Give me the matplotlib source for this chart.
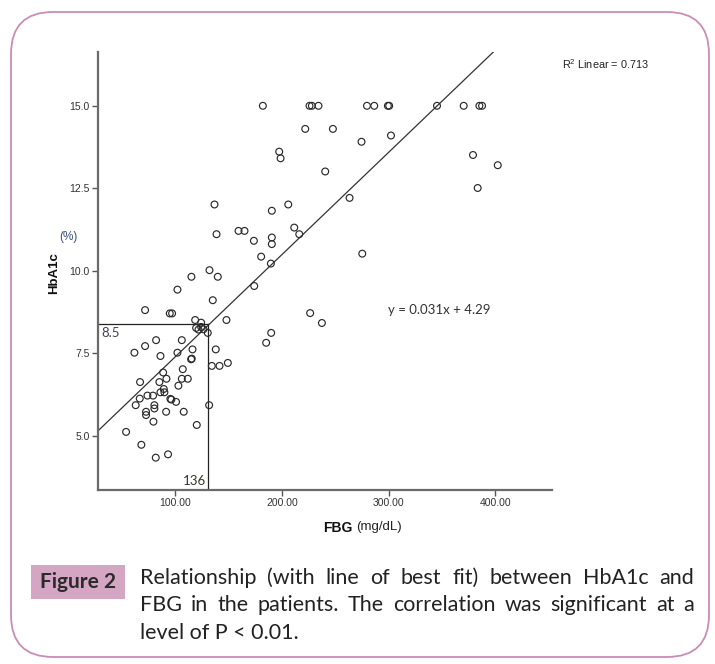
import matplotlib
matplotlib.use("Agg")
import matplotlib.pyplot as plt
from matplotlib.patches import FancyBboxPatch, Rectangle

plt.rcParams['mathtext.fontset'] = 'custom'
plt.rcParams['mathtext.rm'] = 'Liberation Sans'
plt.rcParams['mathtext.it'] = 'Liberation Sans'

# ---------------- data ----------------
fbg = [
    102.2, 135.3, 71.9, 95.0, 97.2, 118.8, 124.4, 148.1, 119.7, 121.9, 124.4, 126.6,
    130.6, 82.2, 106.3, 71.9, 61.9, 102.2, 116.3, 86.3, 115.0, 115.6, 138.1, 134.4,
    141.6, 149.4, 107.2, 88.8, 91.9, 106.3, 111.9, 67.2, 85.3, 103.1, 89.4, 90.0,
    86.3, 74.1, 79.4, 66.9, 95.6, 96.5, 100.9, 63.1, 80.6, 80.6, 72.8, 72.8, 91.6,
    108.1, 131.9, 79.7, 120.3, 54.1, 68.4, 93.4, 81.9,
    136.9, 138.8, 159.4, 165.0, 173.8, 190.6, 190.6, 190.6, 206.0, 211.6, 216.3,
    180.6, 189.7, 115.3, 132.2, 140.0, 174.1, 197.5, 198.8, 221.9, 247.8, 274.6,
    302.2, 240.6, 263.4, 275.3, 226.5, 237.5, 185.3, 190.0, 379.0, 402.2, 383.4,
    182.2, 225.9, 228.1, 234.3, 279.7, 286.5, 299.3, 300.5, 345.3, 370.3, 385.0, 387.5,
]
hba1c = [
    9.43, 9.11, 8.81, 8.71, 8.71, 8.51, 8.43, 8.51, 8.27, 8.22, 8.30, 8.23,
    8.12, 7.90, 7.90, 7.72, 7.52, 7.52, 7.62, 7.42, 7.32, 7.34, 7.62, 7.12,
    7.12, 7.21, 7.02, 6.92, 6.73, 6.73, 6.73, 6.63, 6.63, 6.52, 6.42, 6.32,
    6.32, 6.22, 6.22, 6.13, 6.12, 6.10, 6.03, 5.93, 5.93, 5.83, 5.73, 5.63, 5.73,
    5.73, 5.93, 5.43, 5.33, 5.12, 4.73, 4.44, 4.34,
    12.01, 11.11, 11.21, 11.21, 10.91, 11.01, 10.81, 11.82, 12.01, 11.31, 11.11,
    10.43, 10.22, 9.82, 10.02, 9.82, 9.54, 13.61, 13.41, 14.30, 14.30, 13.91,
    14.10, 13.01, 12.21, 10.52, 8.72, 8.42, 7.82, 8.12, 13.51, 13.20, 12.51,
    15.0, 15.0, 15.0, 15.0, 15.0, 15.0, 15.0, 15.0, 15.0, 15.0, 15.0, 15.0,
]
slope, intercept = 0.031, 4.29
cut_x, cut_y = 130.6, 8.40
xticks = [100, 200, 300, 400]
xticklabels = ["100.00", "200.00", "300.00", "400.00"]
yticks = [5.0, 7.5, 10.0, 12.5, 15.0]
yticklabels = ["5.0", "7.5", "10.0", "12.5", "15.0"]
r2_text = r"R$^{2}$ Linear = 0.713"
eq_text = "y = 0.031x + 4.29"
caption_lines = [
    "Relationship (with line of best fit) between HbA1c and",
    "FBG in the patients. The correlation was significant at a",
    "level of P < 0.01.",
]

W, H = 715, 664
fig = plt.figure(figsize=(W / 100, H / 100), dpi=100)


def fx(px):
    return px / W


def fy(py):
    return 1 - py / H


# rounded border
border = FancyBboxPatch((0.11, 0.07), 6.98, 6.45,
                        boxstyle="round,pad=0,rounding_size=0.42",
                        transform=fig.dpi_scale_trans, fill=False,
                        edgecolor="#c98db6", linewidth=1.3)
fig.patches.append(border)

# axes
x0, x1 = 27.8, 453.0
y0, y1 = 3.36, 16.63
ax = fig.add_axes([fx(98), fy(490), fx(552) - fx(98), fy(52) - fy(490)])
ax.set_xlim(x0, x1)
ax.set_ylim(y0, y1)
for s in ["top", "right"]:
    ax.spines[s].set_visible(False)
for s in ["left", "bottom"]:
    ax.spines[s].set_color("#6a6a6a")
    ax.spines[s].set_linewidth(1.6)

ax.plot([x0, x1], [slope * x0 + intercept, slope * x1 + intercept],
        color="#333333", linewidth=0.9, zorder=2)
ax.plot([x0, cut_x], [cut_y, cut_y], color="#222222", linewidth=0.9, zorder=2)
ax.plot([cut_x, cut_x], [y0, cut_y], color="#222222", linewidth=0.9, zorder=2)

ax.scatter(fbg, hba1c, s=24, facecolors="none", edgecolors="#2a2a2a",
           linewidths=0.85, zorder=3)

ax.set_xticks(xticks)
ax.set_xticklabels(xticklabels, fontfamily="Liberation Sans")
ax.set_yticks(yticks)
ax.set_yticklabels(yticklabels, fontfamily="Liberation Sans")
ax.tick_params(direction="out", length=4, width=1.0, color="#555555",
               labelsize=7.5, labelcolor="#333333", pad=2)

# axis labels
fig.text(fx(54), fy(273), "HbA1c", rotation=90, ha="center", va="center",
         fontsize=9.5, fontweight="bold", fontfamily="Liberation Sans", color="#111111")
fig.text(fx(68), fy(237), "(%)", ha="center", va="center",
         fontsize=8.5, fontfamily="Liberation Sans", color="#34507f")
fig.text(fx(352), fy(528), "FBG", ha="right", va="center",
         fontsize=10, fontweight="bold", fontfamily="Liberation Sans", color="#111111")
fig.text(fx(356), fy(527), "(mg/dL)", ha="left", va="center",
         fontsize=9.5, fontfamily="Liberation Sans", color="#222222")

# annotations
fig.text(fx(562), fy(64), r2_text, ha="left", va="center",
         fontsize=7.8, fontfamily="Liberation Sans", color="#222222")
fig.text(fx(388), fy(310), eq_text, ha="left", va="center",
         fontsize=9.5, fontfamily="Lato", color="#333333")
fig.text(fx(101), fy(333), "8.5", ha="left", va="center",
         fontsize=9.5, fontfamily="Lato", color="#3c4252")
fig.text(fx(183), fy(481), "136", ha="left", va="center",
         fontsize=9.5, fontfamily="Lato", color="#3a3526")

# caption
fig.patches.append(Rectangle((fx(31), fy(599)), fx(125) - fx(31), fy(565) - fy(599),
                             transform=fig.transFigure, facecolor="#d4a6c3",
                             edgecolor="none"))
fig.text(fx(78), fy(582), "Figure 2", ha="center", va="center", fontsize=15,
         fontweight="bold", fontfamily="Lato", color="#2b2b2b")

renderer = fig.canvas.get_renderer()
cap_kw = dict(fontsize=15.5, fontfamily="Lato", color="#222222", va="center", ha="left")
cap_left, cap_right = 140, 694
cap_y = [578, 605, 633]
for i, line in enumerate(caption_lines):
    words = line.split(" ")
    if i < len(caption_lines) - 1:
        txts = [fig.text(0, fy(cap_y[i]), w, **cap_kw) for w in words]
        widths = [t.get_window_extent(renderer).width for t in txts]
        gap = (cap_right - cap_left - sum(widths)) / (len(words) - 1)
        xpos = cap_left
        for t, wdt in zip(txts, widths):
            t.set_x(fx(xpos))
            xpos += wdt + gap
    else:
        fig.text(fx(cap_left), fy(cap_y[i]), line, **cap_kw)

fig.savefig("out.png", dpi=100)
